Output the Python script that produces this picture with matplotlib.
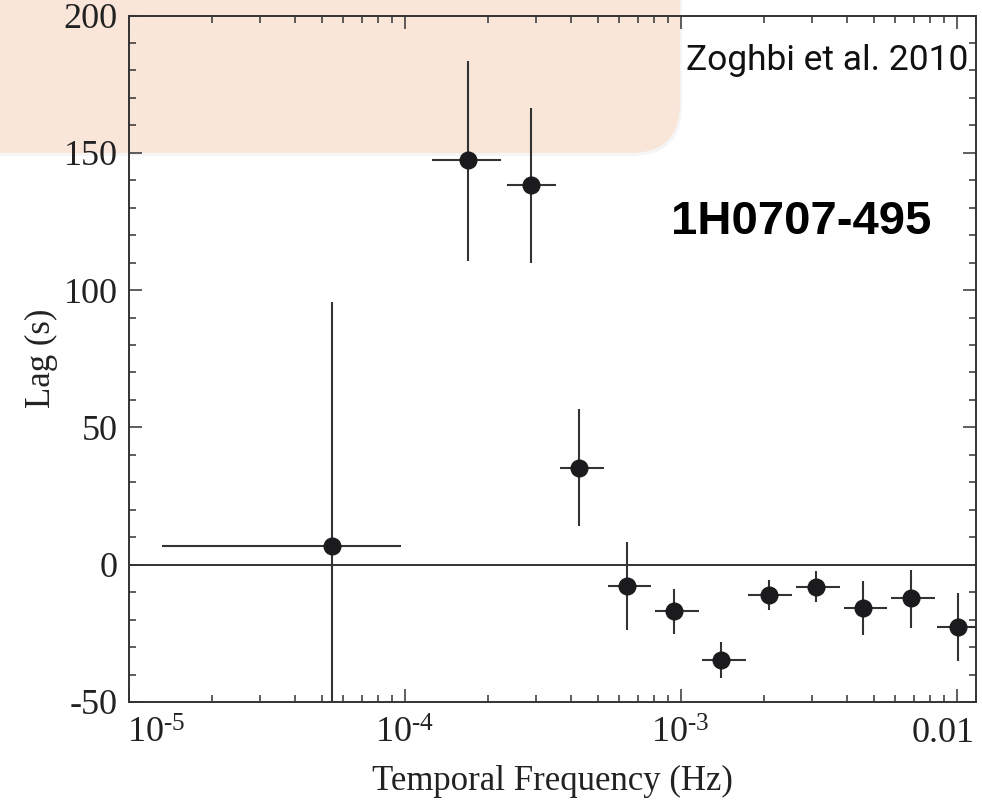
import numpy as np
import matplotlib
matplotlib.use("Agg")
import matplotlib.pyplot as plt
from matplotlib.ticker import FixedLocator, LogLocator, MultipleLocator, NullFormatter
from matplotlib.patches import FancyBboxPatch
from matplotlib.transforms import ScaledTranslation

# ---------------- data ----------------
freq = [5.46e-5, 1.70e-4, 2.88e-4, 4.28e-4, 6.38e-4, 9.48e-4,
        1.40e-3, 2.09e-3, 3.09e-3, 4.58e-3, 6.81e-3, 1.009e-2]
freq_lo = [1.32e-5, 1.26e-4, 2.35e-4, 3.64e-4, 5.45e-4, 8.05e-4,
           1.19e-3, 1.76e-3, 2.62e-3, 3.90e-3, 5.79e-3, 8.51e-3]
freq_hi = [9.7e-5, 2.23e-4, 3.54e-4, 5.26e-4, 7.80e-4, 1.167e-3,
           1.73e-3, 2.54e-3, 3.78e-3, 5.61e-3, 8.32e-3, 1.22e-2]
lag = [6.8, 147.3, 138.1, 35.1, -7.9, -16.8, -34.8, -10.9, -8.1, -15.8, -12.0, -22.7]
lag_top = [95.8, 183.6, 166.3, 56.7, 8.2, -8.7, -28.1, -5.7, -2.3, -6.0, -1.8, -10.3]
lag_bot = [-82.0, 110.6, 110.0, 14.0, -23.6, -25.3, -41.2, -16.6, -13.6, -25.7, -22.9, -35.0]

xtick_vals = [1e-5, 1e-4, 1e-3, 1e-2]
xtick_labels = [r"$\mathregular{10^{\text{-}5}}$", r"$\mathregular{10^{\text{-}4}}$",
                r"$\mathregular{10^{\text{-}3}}$", "0.01"]
ytick_vals = [-50, 0, 50, 100, 150, 200]
ytick_labels = ["-50", "0", "50", "100", "150", "200"]

# ---------------- style ----------------
plt.rcParams["font.family"] = ["Liberation Serif", "DejaVu Serif"]
plt.rcParams["mathtext.fontset"] = "custom"
plt.rcParams["mathtext.rm"] = "Liberation Serif"
plt.rcParams["axes.unicode_minus"] = False

fig = plt.figure(figsize=(9.82, 8.0), dpi=100)
fig.patch.set_facecolor("white")

# peach decorative rounded box (behind axes)
shadow = FancyBboxPatch((-1.0, 6.44), 7.82, 3.0,
                        boxstyle="round,pad=0,rounding_size=0.5",
                        transform=fig.dpi_scale_trans, facecolor="#000000",
                        alpha=0.04, edgecolor="none", zorder=-2)
box = FancyBboxPatch((-1.0, 6.47), 7.80, 3.0,
                     boxstyle="round,pad=0,rounding_size=0.5",
                     transform=fig.dpi_scale_trans, facecolor="#F9E6D9",
                     edgecolor="none", zorder=-1)
fig.patches.extend([shadow, box])

ax = fig.add_axes([0.131, 0.1225, 0.8629, 0.8581])
ax.set_facecolor("none")

x = np.array(freq)
y = np.array(lag)
xerr = [x - np.array(freq_lo), np.array(freq_hi) - x]
yerr = [y - np.array(lag_bot), np.array(lag_top) - y]

ax.axhline(0, color="#333333", lw=1.4, zorder=1)
ax.errorbar(x, y, xerr=xerr, yerr=yerr, fmt="o", ms=12,
            mfc="#1b1b1d", mec="#1b1b1d", ecolor="#333333",
            elinewidth=1.5, capsize=0, zorder=3)

ax.set_xscale("log")
ax.set_xlim(1e-5, 1.175e-2)
ax.set_ylim(-50, 200)

ax.xaxis.set_major_locator(FixedLocator(xtick_vals))
ax.set_xticklabels(xtick_labels)
ax.xaxis.set_minor_locator(LogLocator(base=10, subs=np.arange(2, 10)))
ax.xaxis.set_minor_formatter(NullFormatter())
ax.yaxis.set_major_locator(FixedLocator(ytick_vals))
ax.set_yticklabels(ytick_labels)
ax.yaxis.set_minor_locator(MultipleLocator(10))

for sp in ax.spines.values():
    sp.set_color("#333333")
    sp.set_linewidth(1.4)

ax.tick_params(which="both", direction="in", top=True, right=True,
               color="#333333", width=1.1, labelsize=26, labelcolor="#222222")
ax.tick_params(which="major", length=9.5)
ax.tick_params(which="minor", length=5)
ax.tick_params(axis="x", which="major", pad=11)
ax.tick_params(axis="y", which="major", pad=8)

ax.set_xlabel("Temporal Frequency (Hz)", fontsize=25, color="#222222")
ax.set_ylabel("Lag (s)", fontsize=25, color="#222222")
ax.xaxis.set_label_coords(0.5, -0.092)
ax.yaxis.set_label_coords(-0.083, 0.5)

# shift outer tick labels like the reference
offsets = [20, 0, 0, -10]
for tick, dx in zip(ax.xaxis.get_major_ticks(), offsets):
    tick.label1.set_transform(tick.label1.get_transform() +
                              ScaledTranslation(dx / 72, 0, fig.dpi_scale_trans))

ax.text(0.9906, 0.921, "Zoghbi et al. 2010", transform=ax.transAxes,
        ha="right", va="baseline", fontsize=25.5, fontweight="normal",
        family=["Roboto", "Liberation Sans", "DejaVu Sans"], color="#111111")
ax.text(0.794, 0.682, "1H0707-495", transform=ax.transAxes,
        ha="center", va="baseline", fontsize=34, fontweight="bold",
        family=["Liberation Sans", "DejaVu Sans"], color="#000000")

fig.savefig("out.png", dpi=100)
